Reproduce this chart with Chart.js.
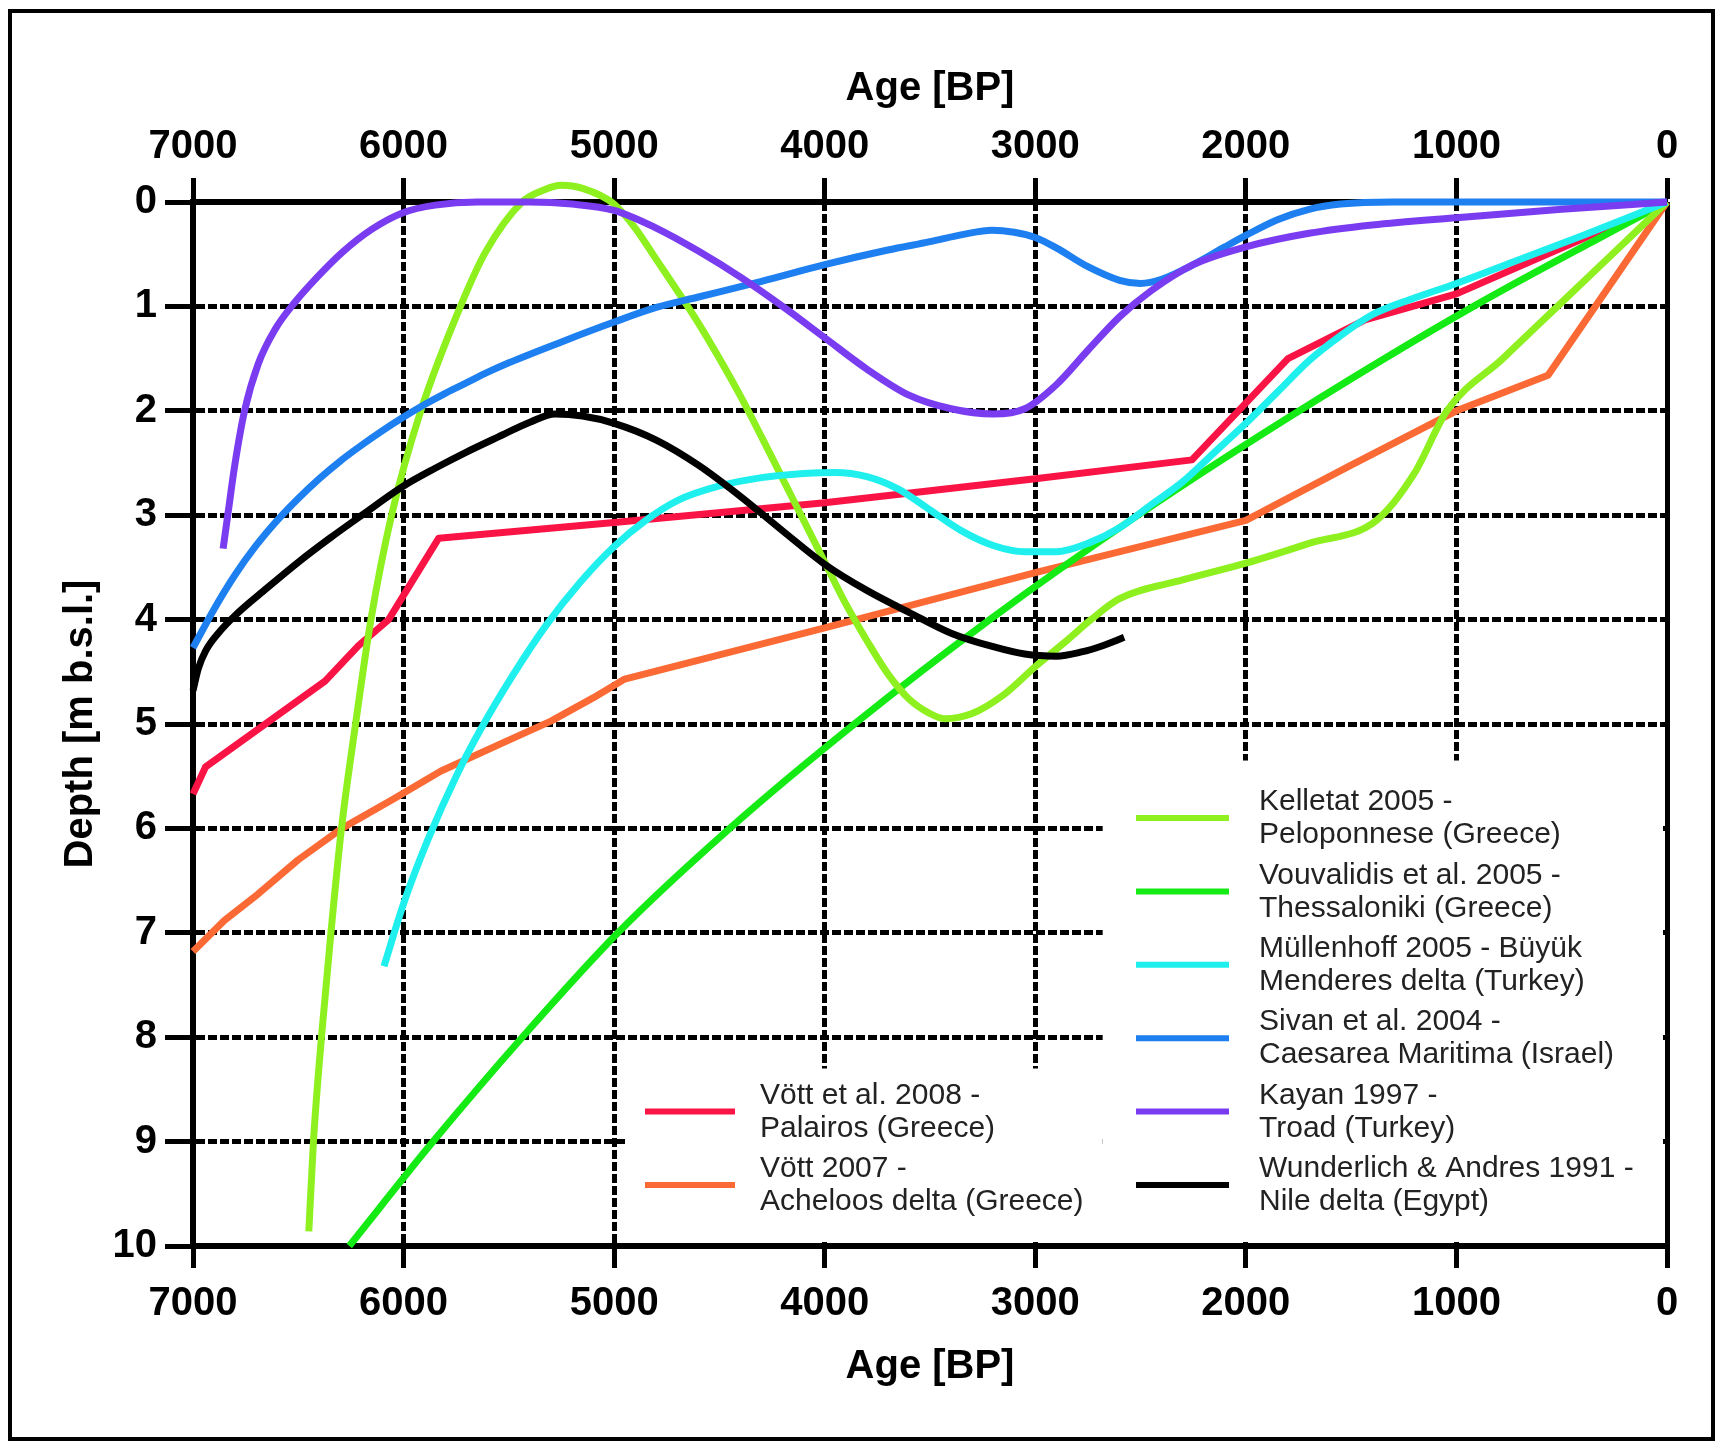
<!DOCTYPE html>
<html>
<head>
<meta charset="utf-8">
<title>Sea level curves</title>
<script src="https://cdn.jsdelivr.net/npm/chart.js@4.4.1/dist/chart.umd.min.js"></script>
<style>
html, body { margin: 0; padding: 0; background: #fff; }
</style>
</head>
<body>
<canvas id="curvas" width="1721" height="1445"></canvas>
<script>
// ticks
const ageTicks = [7000, 6000, 5000, 4000, 3000, 2000, 1000, 0];
const depthTicks = [0, 1, 2, 3, 4, 5, 6, 7, 8, 9, 10];

// Kelletat 2005 - Peloponnese
const kelletatAge = [6450, 6428, 6390, 6345, 6295, 6228, 6155, 6057, 5918, 5730, 5611, 5437, 5340, 5250, 5150, 5000, 4900, 4800, 4700, 4600, 4500, 4400, 4300, 4200, 4100, 4000, 3900, 3800, 3700, 3600, 3500, 3430, 3300, 3150, 3000, 2850, 2735, 2600, 2300, 2000, 1700, 1380, 1200, 1045, 780, 520, 260, 0];
const kelletatDepth = [9.86, 9, 8, 7, 6, 5, 4, 3, 2, 1, 0.48, 0, -0.11, -0.16, -0.13, 0.02, 0.25, 0.55, 0.85, 1.16, 1.5, 1.86, 2.25, 2.65, 3.05, 3.45, 3.85, 4.2, 4.52, 4.76, 4.9, 4.95, 4.9, 4.72, 4.45, 4.2, 4.0, 3.8, 3.62, 3.46, 3.27, 3.05, 2.6, 2.0, 1.5, 1.0, 0.5, 0];

// Vouvalidis et al. 2005 - Thessaloniki
const vouvalidisAge = [6258, 5860, 5436, 4982, 4451, 3859, 3216, 2512, 1746, 919, 0];
const vouvalidisDepth = [10, 9, 8, 7, 6, 5, 4, 3, 2, 1, 0];

// Müllenhoff 2005 - Büyük Menderes
const mullenhoffAge = [6093, 6000, 5887, 5750, 5639, 5480, 5325, 5160, 5000, 4850, 4700, 4500, 4300, 4100, 3950, 3800, 3650, 3500, 3350, 3200, 3050, 2900, 2750, 2600, 2450, 2300, 2150, 2000, 1850, 1700, 1550, 1400, 1200, 1000, 700, 400, 0];
const mullenhoffDepth = [7.32, 6.72, 6.12, 5.5, 5.07, 4.53, 4.06, 3.64, 3.3, 3.05, 2.86, 2.72, 2.64, 2.6, 2.59, 2.63, 2.75, 2.95, 3.15, 3.29, 3.35, 3.35, 3.27, 3.12, 2.9, 2.68, 2.4, 2.12, 1.82, 1.52, 1.28, 1.08, 0.92, 0.78, 0.55, 0.32, 0];

// Sivan et al. 2004 - Caesarea Maritima
const sivanAge = [7000, 6900, 6800, 6700, 6600, 6500, 6400, 6300, 6200, 6100, 6000, 5900, 5800, 5700, 5600, 5500, 5250, 5000, 4800, 4600, 4300, 4000, 3700, 3500, 3341, 3205, 3100, 3000, 2900, 2750, 2600, 2500, 2400, 2250, 2100, 2000, 1850, 1700, 1550, 1300, 0];
const sivanDepth = [4.27, 3.9, 3.57, 3.29, 3.05, 2.84, 2.65, 2.48, 2.33, 2.19, 2.06, 1.94, 1.83, 1.73, 1.63, 1.54, 1.34, 1.15, 1.01, 0.91, 0.76, 0.6, 0.46, 0.38, 0.31, 0.27, 0.29, 0.34, 0.44, 0.62, 0.75, 0.78, 0.74, 0.6, 0.43, 0.32, 0.17, 0.07, 0.02, 0, 0];

// Kayan 1997 - Troad
const kayanAge = [6857, 6835, 6800, 6755, 6690, 6610, 6520, 6410, 6290, 6150, 6000, 5850, 5650, 5400, 5200, 5000, 4800, 4600, 4400, 4200, 4000, 3800, 3600, 3400, 3200, 3050, 2900, 2750, 2600, 2450, 2250, 2000, 1700, 1400, 1000, 500, 0];
const kayanDepth = [3.32, 3.0, 2.5, 2.0, 1.55, 1.22, 0.97, 0.72, 0.48, 0.26, 0.1, 0.03, 0.0, 0, 0.02, 0.08, 0.25, 0.47, 0.72, 1.0, 1.3, 1.6, 1.85, 1.98, 2.03, 1.98, 1.75, 1.42, 1.1, 0.85, 0.6, 0.43, 0.3, 0.22, 0.15, 0.07, 0];

// Wunderlich & Andres 1991 - Nile delta
const wunderlichAge = [7000, 6975, 6940, 6880, 6800, 6650, 6500, 6350, 6198, 6000, 5850, 5706, 5550, 5400, 5280, 5150, 5000, 4800, 4600, 4400, 4200, 4000, 3800, 3600, 3400, 3200, 3050, 2900, 2780, 2680, 2578];
const wunderlichDepth = [4.68, 4.47, 4.3, 4.13, 3.96, 3.7, 3.45, 3.22, 3.0, 2.72, 2.55, 2.4, 2.25, 2.11, 2.03, 2.05, 2.12, 2.28, 2.52, 2.82, 3.15, 3.47, 3.72, 3.93, 4.13, 4.26, 4.33, 4.35, 4.31, 4.25, 4.17];

// Vött et al. 2008 - Palairos
const vott2008Age = [7000, 6940, 6373, 6214, 6071, 5833, 5000, 4000, 3000, 2256, 1800, 1434, 1000, 0];
const vott2008Depth = [5.67, 5.41, 4.59, 4.25, 4.0, 3.22, 3.07, 2.88, 2.65, 2.47, 1.5, 1.13, 0.88, 0];

// Vött 2007 - Acheloos delta
const vott2007Age = [7000, 6850, 6692, 6500, 6293, 6050, 5822, 5550, 5298, 5100, 4950, 4000, 3000, 2000, 1500, 1000, 565, 0];
const vott2007Depth = [7.18, 6.88, 6.63, 6.3, 6.0, 5.72, 5.45, 5.2, 4.97, 4.75, 4.57, 4.08, 3.55, 3.05, 2.52, 2.0, 1.66, 0];

// legend texts (two lines each)
const labKelletat = ['Kelletat 2005 -', 'Peloponnese (Greece)'];
const labVouvalidis = ['Vouvalidis et al. 2005 -', 'Thessaloniki (Greece)'];
const labMullenhoff = ['Müllenhoff 2005 - Büyük', 'Menderes delta (Turkey)'];
const labSivan = ['Sivan et al. 2004 -', 'Caesarea Maritima (Israel)'];
const labKayan = ['Kayan 1997 -', 'Troad (Turkey)'];
const labWunderlich = ['Wunderlich & Andres 1991 -', 'Nile delta (Egypt)'];
const labVott2008 = ['Vött et al. 2008 -', 'Palairos (Greece)'];
const labVott2007 = ['Vött 2007 -', 'Acheloos delta (Greece)'];

function pts(ages, depths) {
  return ages.map((a, i) => ({ x: a, y: depths[i] }));
}

function serie(lab, ages, depths, color, smooth) {
  return {
    label: lab.join(' '),
    lines: lab,
    data: pts(ages, depths),
    borderColor: color,
    backgroundColor: color,
    borderWidth: 7,
    pointRadius: 0,
    fill: false,
    clip: false,
    tension: smooth ? 0.4 : 0,
    cubicInterpolationMode: smooth ? 'monotone' : 'default'
  };
}

const dsWunderlich = serie(labWunderlich, wunderlichAge, wunderlichDepth, '#000000', true);
const dsKayan = serie(labKayan, kayanAge, kayanDepth, '#7a3cf0', true);
const dsSivan = serie(labSivan, sivanAge, sivanDepth, '#1e80f0', true);
const dsMullenhoff = serie(labMullenhoff, mullenhoffAge, mullenhoffDepth, '#1ff0ee', true);
const dsKelletat = serie(labKelletat, kelletatAge, kelletatDepth, '#8ef01e', true);
const dsVouvalidis = serie(labVouvalidis, vouvalidisAge, vouvalidisDepth, '#14ea14', true);
const dsVott2007 = serie(labVott2007, vott2007Age, vott2007Depth, '#fb6a34', false);
const dsVott2008 = serie(labVott2008, vott2008Age, vott2008Depth, '#fa1446', false);

// legend layout: [dataset, column, row]
const leyenda = [
  [dsKelletat, 'der', 0], [dsVouvalidis, 'der', 1], [dsMullenhoff, 'der', 2],
  [dsSivan, 'der', 3], [dsKayan, 'der', 4], [dsWunderlich, 'der', 5],
  [dsVott2008, 'izq', 4], [dsVott2007, 'izq', 5]
];

const fuenteNum = { family: "'Liberation Sans', Arial, sans-serif", size: 40, weight: 'bold' };
const borde = (v, a, b) => (v === a || v === b);
const sinComas = v => String(v);

const fondo = {
  id: 'fondo',
  beforeDraw(chart) {
    const c = chart.ctx;
    c.save();
    c.fillStyle = '#fff';
    c.fillRect(0, 0, chart.width, chart.height);
    c.restore();
  },
  beforeDatasetsDraw(chart) {
    // white boxes behind the legend hide the grid
    const c = chart.ctx, xs = chart.scales.x, ys = chart.scales.y, a = chart.chartArea;
    c.save();
    c.fillStyle = '#fff';
    const x1 = xs.getPixelForValue(2680), y1 = ys.getPixelForValue(5.35);
    c.fillRect(x1, y1, a.right - 4 - x1, a.bottom - 4 - y1);
    const x2 = xs.getPixelForValue(4935), y2 = ys.getPixelForValue(8.3);
    c.fillRect(x2, y2, x1 - x2, a.bottom - 4 - y2);
    c.restore();
  },
  afterDraw(chart) {
    const c = chart.ctx, a = chart.chartArea;
    c.save();
    // titles
    c.fillStyle = '#000';
    c.font = "bold 40px 'Liberation Sans', Arial, sans-serif";
    c.textAlign = 'center';
    c.textBaseline = 'middle';
    const cx = (a.left + a.right) / 2;
    c.fillText('Age [BP]', cx, 89);
    c.fillText('Age [BP]', cx, 1367);
    c.translate(81, (a.top + a.bottom) / 2);
    c.rotate(-Math.PI / 2);
    c.fillText('Depth [m b.s.l.]', 0, 0);
    c.restore();

    // legend
    c.save();
    c.font = "30px 'Liberation Sans', Arial, sans-serif";
    c.textAlign = 'left';
    c.textBaseline = 'middle';
    leyenda.forEach(([ds, col, row]) => {
      const sx1 = col === 'der' ? 1136 : 645;
      const sx2 = col === 'der' ? 1229 : 735;
      const tx = col === 'der' ? 1259 : 760;
      const y = 818 + row * 73.4;
      c.strokeStyle = ds.borderColor;
      c.lineWidth = 6;
      c.beginPath();
      c.moveTo(sx1, y);
      c.lineTo(sx2, y);
      c.stroke();
      c.fillStyle = '#222';
      c.fillText(ds.lines[0], tx, y - 16);
      c.fillText(ds.lines[1], tx, y + 17);
    });
    c.restore();

    // outer frame
    c.save();
    c.strokeStyle = '#000';
    c.lineWidth = 4;
    c.strokeRect(10, 11, 1703, 1428);
    c.restore();
  }
};

const ctx = document.getElementById('curvas').getContext('2d');
const grafico = new Chart(ctx, {
  type: 'line',
  data: {
    datasets: [dsWunderlich, dsKayan, dsSivan, dsMullenhoff, dsKelletat, dsVouvalidis, dsVott2007, dsVott2008]
  },
  options: {
    responsive: false,
    animation: false,
    devicePixelRatio: 1,
    layout: { padding: { left: 0, right: 54, top: 0, bottom: 0 } },
    elements: { line: { capBezierPoints: false, borderJoinStyle: 'round' } },
    plugins: {
      legend: { display: false },
      tooltip: { enabled: false }
    },
    scales: {
      x: {
        type: 'linear', position: 'bottom', min: 0, max: 7000, reverse: true,
        afterBuildTicks: s => { s.ticks = ageTicks.map(v => ({ value: v })); },
        afterFit: s => { s.height = 199; },
        grid: { color: '#000', lineWidth: 5, tickLength: 22, tickWidth: 5, tickColor: '#000', tickBorderDash: [] },
        border: { display: true, color: '#000', width: 6,
          dash: c => (c.tick && !borde(c.tick.value, 0, 7000)) ? [9, 3] : [] },
        ticks: { font: fuenteNum, color: '#000', padding: 12, maxRotation: 0, autoSkip: false, callback: sinComas }
      },
      xTop: {
        axis: 'x', type: 'linear', position: 'top', min: 0, max: 7000, reverse: true,
        afterBuildTicks: s => { s.ticks = ageTicks.map(v => ({ value: v })); },
        afterFit: s => { s.height = 202; },
        grid: { drawOnChartArea: false, color: '#000', tickLength: 24, tickWidth: 5, tickColor: '#000' },
        border: { display: true, color: '#000', width: 6 },
        ticks: { font: fuenteNum, color: '#000', padding: 7, maxRotation: 0, autoSkip: false, callback: sinComas }
      },
      y: {
        type: 'linear', position: 'left', min: 0, max: 10, reverse: true,
        afterBuildTicks: s => { s.ticks = depthTicks.map(v => ({ value: v })); },
        afterFit: s => { s.width = 193; },
        grid: { color: '#000', lineWidth: 5, tickLength: 28, tickWidth: 5, tickColor: '#000', tickBorderDash: [] },
        border: { display: true, color: '#000', width: 6,
          dash: c => (c.tick && !borde(c.tick.value, 0, 10)) ? [9, 3] : [] },
        ticks: { font: fuenteNum, color: '#000', padding: 8, callback: sinComas }
      }
    }
  },
  plugins: [fondo]
});
</script>
</body>
</html>
